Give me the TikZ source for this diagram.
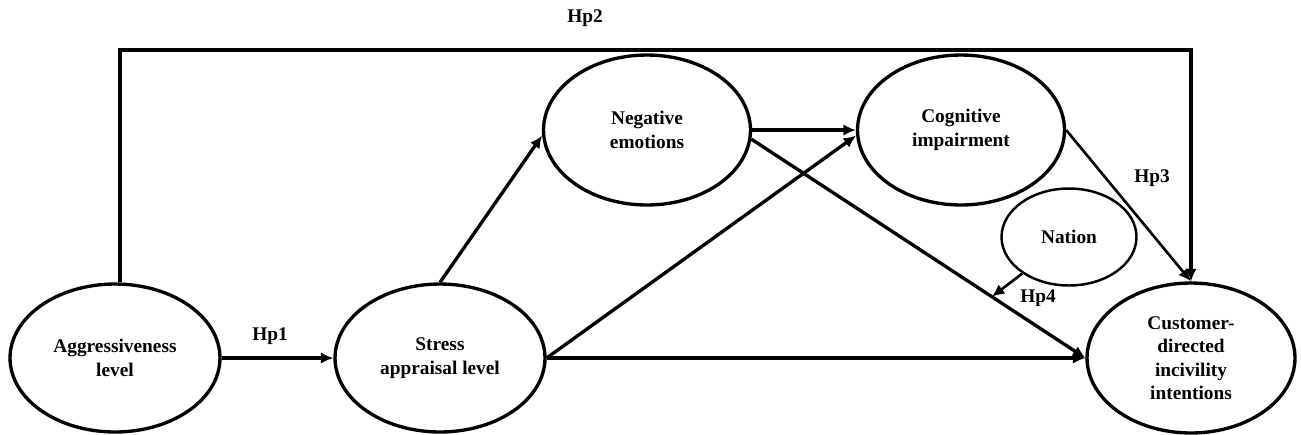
\documentclass[tikz,border=0pt]{standalone}
\usepackage{fontspec}
\setmainfont{Liberation Serif}
\usetikzlibrary{shapes.geometric,arrows.meta}
\begin{document}
\begin{tikzpicture}[x=0.02cm,y=-0.02cm,
  every node/.style={font=\fontsize{11}{13.4}\selectfont\bfseries},
  latent/.style={ellipse,draw,line width=1.9pt,align=center,inner sep=0pt},
  arr/.style={line width=1.9pt,-{Latex[length=2.5mm,width=2.3mm]}},
  lbl/.style={inner sep=1pt}]
\useasboundingbox (0,0) rectangle (1301,434);
\node[latent,minimum width=4.2cm,minimum height=2.96cm] (agg) at (115,358) {Aggressiveness\\level};
\node[latent,minimum width=4.2cm,minimum height=2.96cm] (stress) at (440,358) {Stress\\appraisal level};
\node[latent,minimum width=4.14cm,minimum height=3cm] (neg) at (647,130) {Negative\\emotions};
\node[latent,minimum width=4.14cm,minimum height=3cm] (cog) at (961,130) {Cognitive\\impairment};
\node[latent,line width=1.4pt,minimum width=2.7cm,minimum height=1.94cm] (nation) at (1069,237) {Nation};
\node[latent,minimum width=4.16cm,minimum height=3cm] (cust) at (1191,358) {Customer-\\directed\\incivility\\intentions};
\coordinate (top) at (0,50);
\coordinate (aggtop) at ([xshift=0.1cm]agg.north);
\draw[arr] (aggtop) -- (aggtop |- top) -- (cust.north |- top) -- (cust.north);
\node[lbl] (hp2) at (585,18) {Hp2};
\draw[arr] (agg.east) -- (stress.west);
\node[lbl] (hp1) at (270,336) {Hp1};
\draw[arr] (stress.north) -- (neg.183);
\draw[arr] (stress.east) -- (cog.183);
\draw[arr] (stress.east) -- (cust.west);
\draw[arr] (neg.east) -- (cog.west);
\draw[arr] (neg.355) -- (cust.west);
\path (neg.355) -- (cust.west) coordinate[pos=0.72] (hp4end);
\draw[arr,line width=1.5pt] (cog.east) -- (cust.north);
\node[lbl] (hp3) at (1152,178) {Hp3};
\draw[arr,line width=1.5pt] (nation.218) -- (hp4end);
\node[lbl] (hp4) at (1038,298) {Hp4};
\end{tikzpicture}
\end{document}
